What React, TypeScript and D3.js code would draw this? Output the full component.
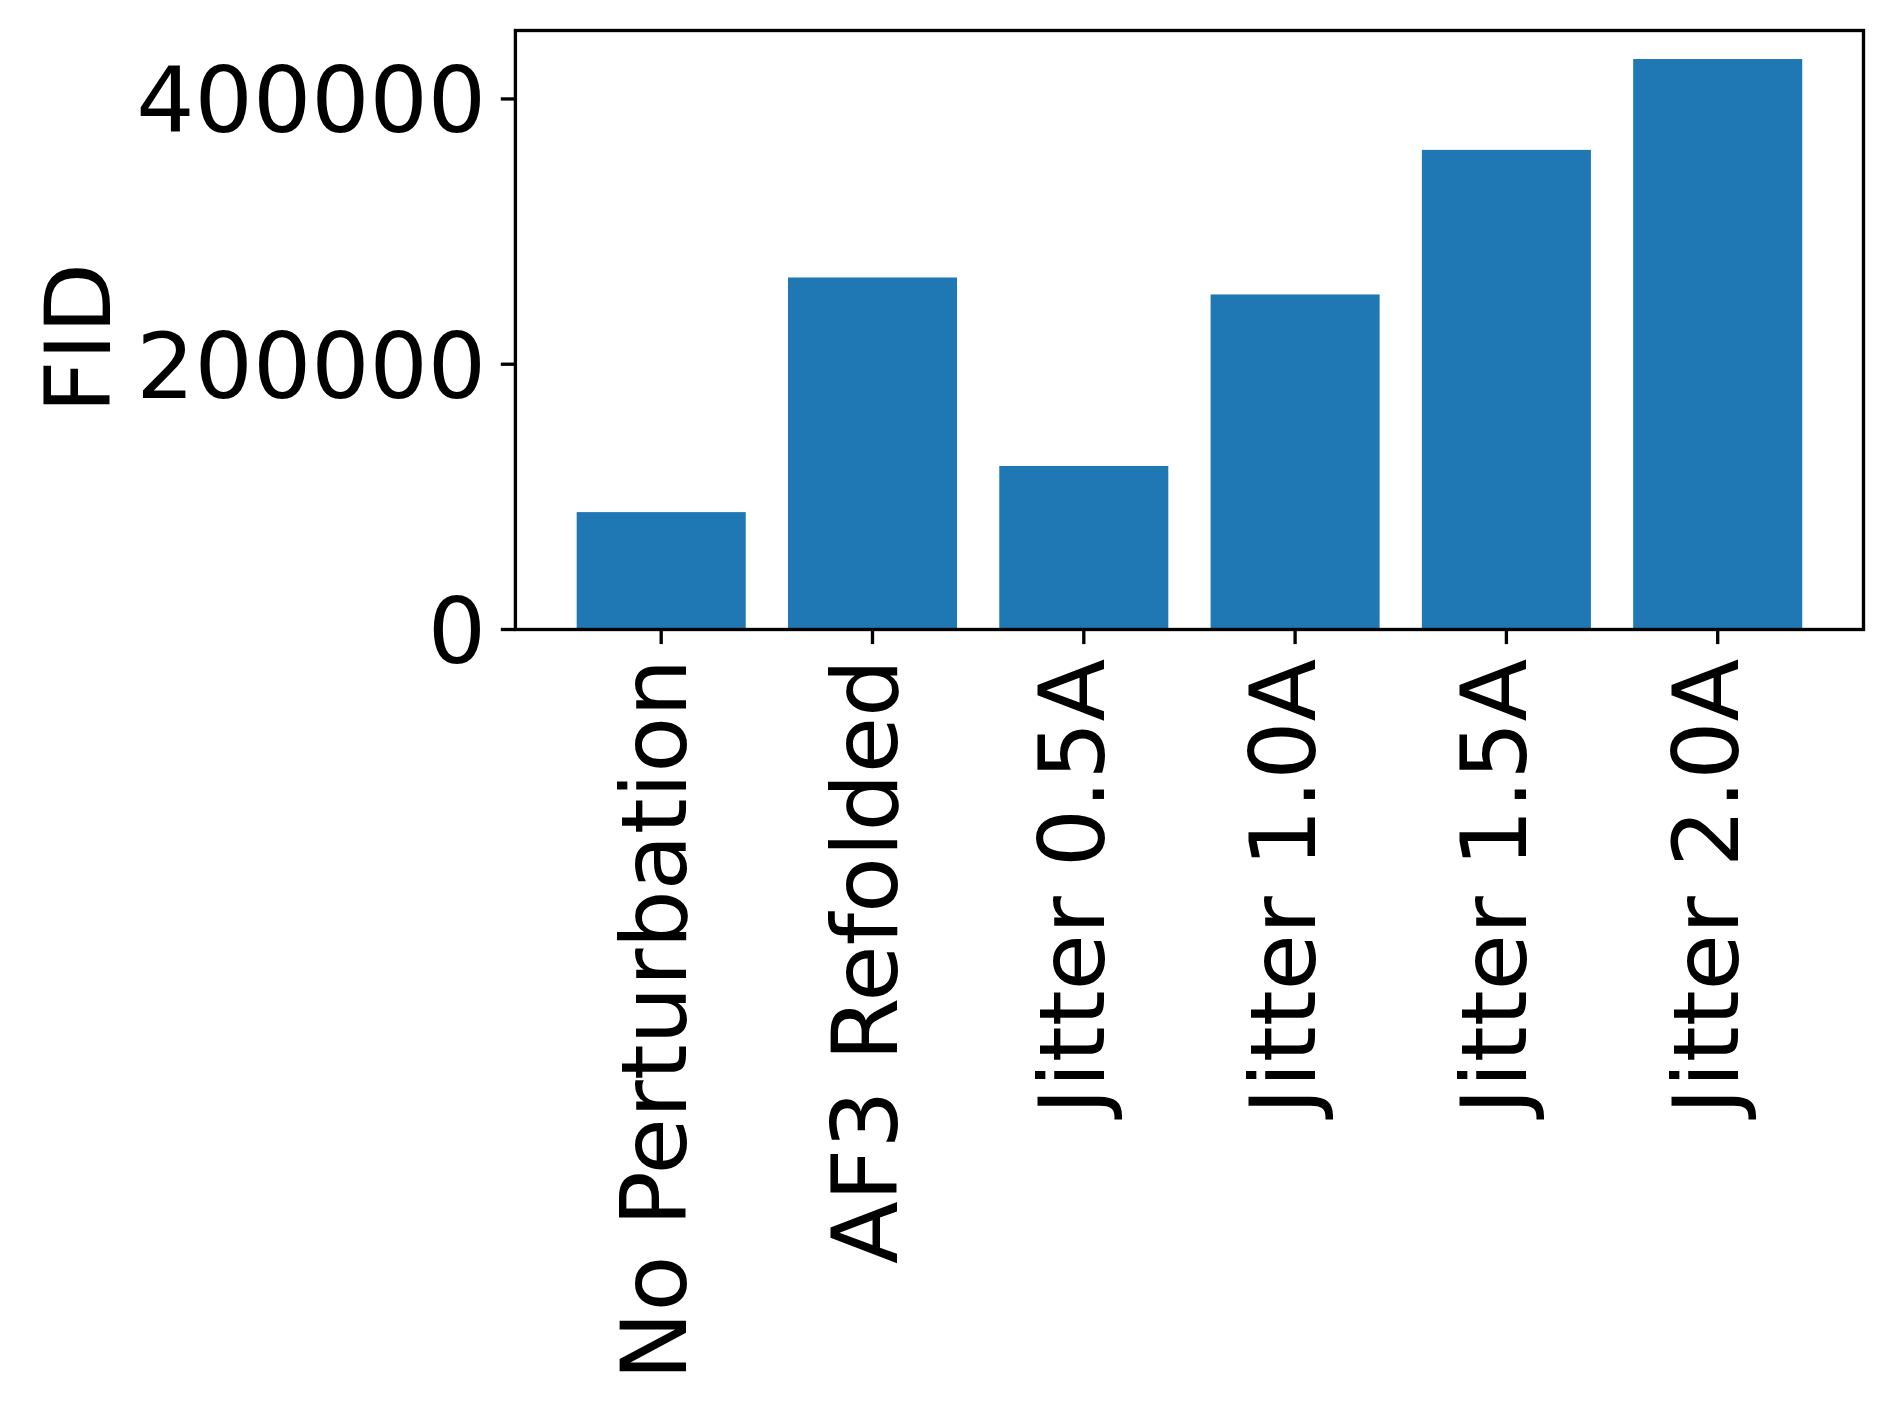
import React from "react";
import * as d3 from "d3";

const categories: string[] = [
  "No Perturbation",
  "AF3 Refolded",
  "Jitter 0.5A",
  "Jitter 1.0A",
  "Jitter 1.5A",
  "Jitter 2.0A",
];
const fidValues: number[] = [88500, 265400, 123300, 252600, 361600, 430100];
const yTicks: number[] = [0, 200000, 400000];
const yLabel = "FID";

const W = 1893;
const H = 1411;
const left = 515.4;
const right = 1863.5;
const top = 30.5;
const bottom = 629.5;
const fontSize = 91.67;
const tickLen = 14.6;
const pad = 14.6;
const lw = 3.33;
const barColor = "#1f77b4";
const font = "'DejaVu Sans', sans-serif";

export default function App() {
  const n = categories.length;
  const barW = 0.8;
  const span = n - 1 + barW;
  const x = d3
    .scaleLinear()
    .domain([-barW / 2 - 0.05 * span, n - 1 + barW / 2 + 0.05 * span])
    .range([left, right]);
  const yMax = (d3.max(fidValues) as number) * 1.05;
  const y = d3.scaleLinear().domain([0, yMax]).range([bottom, top]);

  return (
    <svg
      width={W}
      height={H}
      style={{ position: "absolute", left: 0, top: 0, background: "#fff" }}
      fontFamily={font}
    >
      <rect x={0} y={0} width={W} height={H} fill="#fff" />
      {fidValues.map((v, i) => (
        <rect
          key={i}
          x={x(i - barW / 2)}
          y={y(v)}
          width={x(i + barW / 2) - x(i - barW / 2)}
          height={y(0) - y(v)}
          fill={barColor}
        />
      ))}
      <rect
        x={left}
        y={top}
        width={right - left}
        height={bottom - top}
        fill="none"
        stroke="#000"
        strokeWidth={lw}
        strokeLinejoin="miter"
      />
      {yTicks.map((t) => (
        <g key={t}>
          <line
            x1={left - tickLen}
            x2={left}
            y1={y(t)}
            y2={y(t)}
            stroke="#000"
            strokeWidth={lw}
          />
          <text
            x={left - tickLen - pad}
            y={y(t) + fontSize * 0.3645}
            textAnchor="end"
            fontSize={fontSize}
            fill="#000"
          >
            {String(t)}
          </text>
        </g>
      ))}
      {categories.map((c, i) => {
        const off = c.includes("J") ? 20 : 25;
        return (
          <g key={c}>
            <line
              x1={x(i)}
              x2={x(i)}
              y1={bottom}
              y2={bottom + tickLen}
              stroke="#000"
              strokeWidth={lw}
            />
            <text
              transform={`translate(${x(i) + off},${bottom + tickLen + pad}) rotate(-90)`}
              textAnchor="end"
              fontSize={fontSize}
              fill="#000"
            >
              {c}
            </text>
          </g>
        );
      })}
      <text
        transform={`translate(110,${(top + bottom) / 2 + 8}) rotate(-90)`}
        textAnchor="middle"
        fontSize={fontSize}
        fill="#000"
      >
        {yLabel}
      </text>
    </svg>
  );
}
